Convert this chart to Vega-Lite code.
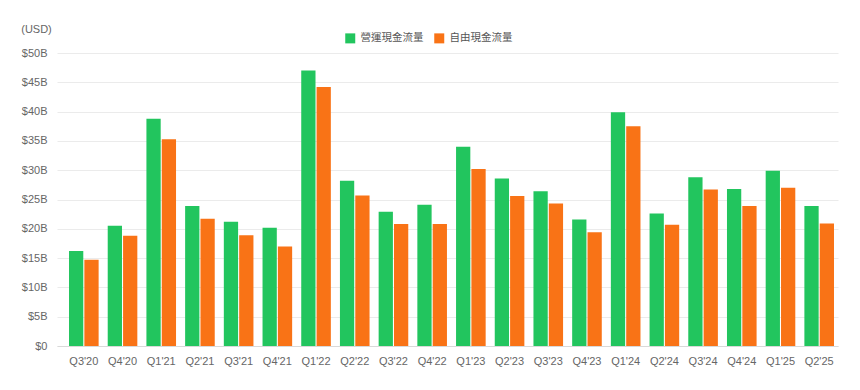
{
  "$schema": "https://vega.github.io/schema/vega-lite/v6.json",
  "width": 781,
  "height": 293,
  "autosize": "none",
  "padding": {"left": 57, "top": 53, "right": 22, "bottom": 44},
  "background": "white",
  "config": {
    "font": "Liberation Sans, Noto Sans CJK TC",
    "view": {"stroke": null}
  },
  "data": {
    "values": [
      {"quarter": "Q3'20", "type": "營運現金流量", "value": 16.2},
      {"quarter": "Q3'20", "type": "自由現金流量", "value": 14.7},
      {"quarter": "Q4'20", "type": "營運現金流量", "value": 20.5},
      {"quarter": "Q4'20", "type": "自由現金流量", "value": 18.8},
      {"quarter": "Q1'21", "type": "營運現金流量", "value": 38.8},
      {"quarter": "Q1'21", "type": "自由現金流量", "value": 35.3},
      {"quarter": "Q2'21", "type": "營運現金流量", "value": 23.9},
      {"quarter": "Q2'21", "type": "自由現金流量", "value": 21.7},
      {"quarter": "Q3'21", "type": "營運現金流量", "value": 21.2},
      {"quarter": "Q3'21", "type": "自由現金流量", "value": 18.9},
      {"quarter": "Q4'21", "type": "營運現金流量", "value": 20.2},
      {"quarter": "Q4'21", "type": "自由現金流量", "value": 17.0},
      {"quarter": "Q1'22", "type": "營運現金流量", "value": 47.0},
      {"quarter": "Q1'22", "type": "自由現金流量", "value": 44.2},
      {"quarter": "Q2'22", "type": "營運現金流量", "value": 28.2},
      {"quarter": "Q2'22", "type": "自由現金流量", "value": 25.7},
      {"quarter": "Q3'22", "type": "營運現金流量", "value": 22.9},
      {"quarter": "Q3'22", "type": "自由現金流量", "value": 20.8},
      {"quarter": "Q4'22", "type": "營運現金流量", "value": 24.1},
      {"quarter": "Q4'22", "type": "自由現金流量", "value": 20.8},
      {"quarter": "Q1'23", "type": "營運現金流量", "value": 34.0},
      {"quarter": "Q1'23", "type": "自由現金流量", "value": 30.2},
      {"quarter": "Q2'23", "type": "營運現金流量", "value": 28.6},
      {"quarter": "Q2'23", "type": "自由現金流量", "value": 25.6},
      {"quarter": "Q3'23", "type": "營運現金流量", "value": 26.4},
      {"quarter": "Q3'23", "type": "自由現金流量", "value": 24.3},
      {"quarter": "Q4'23", "type": "營運現金流量", "value": 21.6},
      {"quarter": "Q4'23", "type": "自由現金流量", "value": 19.4},
      {"quarter": "Q1'24", "type": "營運現金流量", "value": 39.9},
      {"quarter": "Q1'24", "type": "自由現金流量", "value": 37.5},
      {"quarter": "Q2'24", "type": "營運現金流量", "value": 22.6},
      {"quarter": "Q2'24", "type": "自由現金流量", "value": 20.7},
      {"quarter": "Q3'24", "type": "營運現金流量", "value": 28.8},
      {"quarter": "Q3'24", "type": "自由現金流量", "value": 26.7},
      {"quarter": "Q4'24", "type": "營運現金流量", "value": 26.8},
      {"quarter": "Q4'24", "type": "自由現金流量", "value": 23.9},
      {"quarter": "Q1'25", "type": "營運現金流量", "value": 29.9},
      {"quarter": "Q1'25", "type": "自由現金流量", "value": 27.0},
      {"quarter": "Q2'25", "type": "營運現金流量", "value": 23.9},
      {"quarter": "Q2'25", "type": "自由現金流量", "value": 20.9}
    ]
  },
  "mark": {"type": "bar"},
  "encoding": {
    "x": {
      "field": "quarter",
      "type": "nominal",
      "sort": null,
      "scale": {"paddingInner": 0.235, "paddingOuter": 0.207, "align": 0.75},
      "axis": {
        "title": null,
        "labelAngle": 0,
        "labelColor": "#666666",
        "labelFontSize": 11,
        "labelPadding": 9,
        "ticks": false,
        "domainColor": "#d9d9d9",
        "grid": false
      }
    },
    "xOffset": {
      "field": "type",
      "type": "nominal",
      "sort": ["營運現金流量", "自由現金流量"],
      "scale": {"paddingInner": 0.07}
    },
    "y": {
      "field": "value",
      "type": "quantitative",
      "scale": {"domain": [0, 50], "nice": false},
      "axis": {
        "title": "(USD)",
        "titleAngle": 0,
        "titleX": -21,
        "titleY": -24,
        "titleAlign": "center",
        "titleBaseline": "middle",
        "titleColor": "#666666",
        "titleFontSize": 11,
        "titleFontWeight": "normal",
        "values": [0, 5, 10, 15, 20, 25, 30, 35, 40, 45, 50],
        "labelExpr": "datum.value == 0 ? '$0' : '$' + datum.value + 'B'",
        "labelColor": "#666666",
        "labelFontSize": 11,
        "labelPadding": 10,
        "ticks": false,
        "domain": false,
        "gridColor": "#ebebeb",
        "gridWidth": 1
      }
    },
    "color": {
      "field": "type",
      "type": "nominal",
      "sort": ["營運現金流量", "自由現金流量"],
      "scale": {"domain": ["營運現金流量", "自由現金流量"], "range": ["#22c55e", "#f97316"]},
      "legend": {
        "title": null,
        "orient": "none",
        "direction": "horizontal",
        "legendX": 288,
        "legendY": -20,
        "symbolType": "square",
        "symbolSize": 100,
        "symbolStrokeWidth": 0,
        "labelFontSize": 10.5,
        "labelColor": "#555555",
        "labelOffset": 5,
        "columnPadding": 10
      }
    }
  }
}
